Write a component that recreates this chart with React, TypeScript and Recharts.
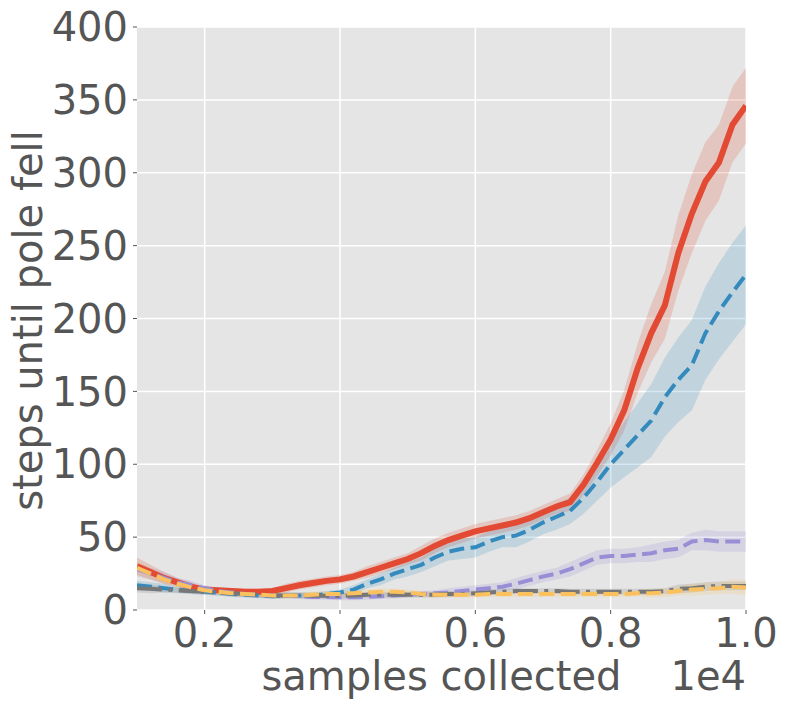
import React from 'react';
import { ComposedChart, Line, Area, XAxis, YAxis, CartesianGrid, Label } from 'recharts';

// samples collected (raw count, axis shows it scaled by 1e4)
const samples = [
  1000, 1200, 1400, 1600, 1800, 2000, 2200, 2400, 2600, 2800,
  3000, 3200, 3400, 3600, 3800, 4000, 4200, 4400, 4600, 4800,
  5000, 5200, 5400, 5600, 5800, 6000, 6200, 6400, 6600, 6800,
  7000, 7200, 7400, 7600, 7800, 8000, 8200, 8400, 8600, 8800,
  9000, 9200, 9400, 9600, 9800, 10000,
];

// mean steps until pole fell, per method
const redMean = [
  30, 26, 22, 19, 16, 14, 13.5, 13, 12.5, 12.5,
  13, 15, 17, 18.5, 20, 21, 23, 26, 29, 32,
  35, 39, 44, 48, 51, 54, 56, 58, 60, 63,
  67, 71, 74, 86, 101, 117, 137, 166, 190, 209,
  245, 272, 294, 307, 333, 346,
];
const blueMean = [
  17, 16, 15, 14, 13, 12.5, 12, 11, 10.5, 10,
  9.5, 10, 10, 10, 11, 12, 14, 18, 21, 25,
  28, 31, 36, 40, 42, 43, 47, 50, 51, 55,
  60, 64, 68, 77, 88, 100, 110, 120, 130, 146,
  158, 168, 190, 205, 218, 230,
];
const purpleMean = [
  28, 25, 22, 19, 17, 15, 13, 12, 11, 10.5,
  10, 10, 9.5, 9, 9, 8.7, 8.7, 9, 9.5, 10,
  10.5, 11, 11.5, 12, 13, 14, 15, 16, 18, 20.5,
  23, 25, 28, 32, 36, 37, 37, 38, 39, 41,
  42, 47, 48, 47, 47, 47,
];
const grayMean = [
  15, 14.5, 14, 13.5, 13, 12.5, 12, 11.5, 11, 10.5,
  10, 10, 10, 9.8, 9.7, 9.6, 10, 10.5, 10.5, 10.5,
  10.5, 10.5, 10.5, 11, 11, 11.5, 12, 12.5, 13, 13,
  13, 13, 12.5, 12.5, 12.5, 12.5, 12.5, 12.5, 12.5, 13,
  14.5, 15, 16, 16.5, 16.5, 16.5,
];
const yellowMean = [
  29, 25, 21, 18, 15.5, 13.5, 12.5, 11.5, 11, 10.5,
  10, 10, 10, 10.5, 11, 11, 11.5, 12, 12.5, 12.5,
  12, 11, 10.5, 10.5, 10.5, 10.5, 11, 11, 11, 11,
  11, 11, 11, 11, 11, 11, 11, 11.5, 11.5, 12,
  13, 14, 14.5, 15, 16, 15.5,
];

// half-width of the shaded band around each mean
const redSpread = [
  6, 5, 4, 3, 3, 2, 2, 2, 2, 2,
  2, 3, 3, 3, 3, 3, 3, 4, 4, 4,
  4, 5, 5, 5, 5, 5, 5, 5, 5, 5,
  5, 5, 6, 7, 9, 11, 14, 17, 20, 23,
  26, 27, 27, 26, 26, 26,
];
const blueSpread = [
  3, 3, 3, 2, 2, 2, 2, 2, 2, 2,
  2, 2, 2, 2, 2, 2, 3, 3, 4, 4,
  5, 5, 6, 6, 7, 7, 7, 7, 8, 8,
  8, 9, 9, 11, 13, 16, 19, 22, 25, 27,
  29, 31, 32, 33, 34, 34,
];
const purpleSpread = [
  5, 4, 4, 3, 3, 2, 2, 2, 2, 2,
  2, 2, 2, 2, 2, 2, 2, 2, 2, 2,
  2, 2, 2, 3, 3, 3, 3, 3, 4, 4,
  4, 4, 5, 5, 5, 5, 5, 5, 6, 6,
  6, 6, 7, 7, 7, 7,
];
const graySpread = [
  3, 3, 2, 2, 2, 2, 2, 2, 2, 2,
  2, 2, 2, 2, 2, 2, 2, 2, 2, 2,
  2, 2, 2, 2, 2, 2, 2, 2, 2, 2,
  2, 2, 2, 2, 2, 2, 2, 2, 2, 2,
  3, 3, 3, 3, 3, 3,
];
const yellowSpread = [
  5, 4, 3, 3, 2, 2, 2, 2, 2, 2,
  2, 2, 2, 2, 2, 2, 2, 2, 2, 2,
  2, 2, 2, 2, 2, 2, 2, 2, 2, 2,
  2, 2, 2, 2, 2, 2, 2, 2, 3, 3,
  3, 4, 4, 4, 5, 5,
];

const xTicks = [2000, 4000, 6000, 8000, 10000];
const yTicks = [0, 50, 100, 150, 200, 250, 300, 350, 400];

const series = [
  { key: 'red', mean: redMean, spread: redSpread, color: '#E24A33', width: 6, dash: undefined },
  { key: 'blue', mean: blueMean, spread: blueSpread, color: '#348ABD', width: 4, dash: '15 6.4' },
  { key: 'purple', mean: purpleMean, spread: purpleSpread, color: '#988ED5', width: 4, dash: '15 6.4' },
  { key: 'gray', mean: grayMean, spread: graySpread, color: '#777777', width: 4, dash: '25 6.4 4 6.4' },
  { key: 'yellow', mean: yellowMean, spread: yellowSpread, color: '#FBC15E', width: 4, dash: '15 6.4' },
];

const data = samples.map((x, i) => {
  const row: Record<string, number | number[]> = { x };
  series.forEach((s) => {
    row[s.key] = s.mean[i];
    row[s.key + 'Band'] = [s.mean[i] - s.spread[i], s.mean[i] + s.spread[i]];
  });
  return row;
});

const FONT = '"DejaVu Sans", sans-serif';
const TEXT = '#555555';
const SIZE = 40;

const App = () => {
  return (
    <div style={{ position: 'absolute', left: 0, top: 0, width: 789, height: 710, background: '#fff' }}>
      <ComposedChart width={789} height={710} data={data} margin={{ top: 27, right: 43, bottom: 0, left: 0 }}>
        <CartesianGrid fill="#E5E5E5" stroke="#FFFFFF" strokeWidth={1.5} horizontalValues={yTicks} verticalValues={xTicks} />
        <XAxis
          dataKey="x"
          type="number"
          domain={[1000, 10000]}
          ticks={xTicks}
          tickFormatter={(v: number) => (v / 10000).toFixed(1)}
          height={100}
          axisLine={false}
          tickSize={4}
          tickMargin={5}
          tickLine={{ stroke: TEXT }}
          tick={{ fill: TEXT, fontSize: SIZE, fontFamily: FONT }}
          allowDataOverflow
        >
          <Label
            content={(props: any) => {
              const vb = props.viewBox || {};
              return (
                <g>
                  <text x={vb.x + vb.width / 2} y={vb.y + 80} textAnchor="middle" fill={TEXT} fontSize={SIZE} fontFamily={FONT}>
                    samples collected
                  </text>
                  <text x={vb.x + vb.width} y={vb.y + 80} textAnchor="end" fill={TEXT} fontSize={SIZE} fontFamily={FONT}>
                    1e4
                  </text>
                </g>
              );
            }}
          />
        </XAxis>
        <YAxis
          type="number"
          domain={[0, 400]}
          ticks={yTicks}
          width={137}
          axisLine={false}
          tickSize={4}
          tickMargin={5}
          tickLine={{ stroke: TEXT }}
          tick={{ fill: TEXT, fontSize: SIZE, fontFamily: FONT }}
          allowDataOverflow
        >
          <Label
            content={(props: any) => {
              const vb = props.viewBox || {};
              const cx = vb.x + 42;
              const cy = vb.y + vb.height / 2 + 2;
              return (
                <text x={cx} y={cy} transform={`rotate(-90, ${cx}, ${cy})`} textAnchor="middle" fill={TEXT} fontSize={SIZE} fontFamily={FONT}>
                  steps until pole fell
                </text>
              );
            }}
          />
        </YAxis>
        {series.map((s) => (
          <Area
            key={s.key + 'Band'}
            dataKey={s.key + 'Band'}
            type="linear"
            stroke="none"
            fill={s.color}
            fillOpacity={0.2}
            isAnimationActive={false}
            activeDot={false}
          />
        ))}
        {series.map((s) => (
          <Line
            key={s.key}
            dataKey={s.key}
            type="linear"
            stroke={s.color}
            strokeWidth={s.width}
            strokeDasharray={s.dash}
            dot={false}
            activeDot={false}
            isAnimationActive={false}
          />
        ))}
      </ComposedChart>
    </div>
  );
};

export default App;
